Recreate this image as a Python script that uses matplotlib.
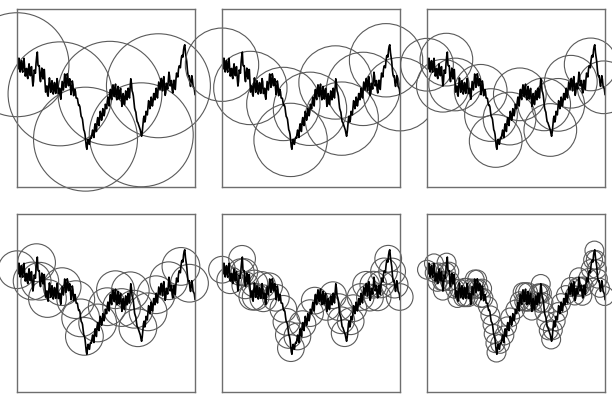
import numpy as np
import matplotlib
matplotlib.use('Agg')
import matplotlib.pyplot as plt
from matplotlib.patches import Circle

# profilo (ordinata in frazione dell'altezza del riquadro), campioni equispaziati
y_curve = [0.687, 0.661, 0.705, 0.724, 0.672, 0.646, 0.690, 0.710, 0.660, 0.645,
           0.700, 0.723, 0.675, 0.623, 0.640, 0.666, 0.622, 0.609, 0.665, 0.692,
           0.648, 0.625, 0.672, 0.676, 0.610, 0.567, 0.594, 0.657, 0.650, 0.639,
           0.697, 0.735, 0.758, 0.684, 0.680, 0.682, 0.613, 0.592, 0.640, 0.668,
           0.625, 0.607, 0.659, 0.660, 0.590, 0.533, 0.545, 0.568, 0.520, 0.510,
           0.570, 0.613, 0.585, 0.532, 0.548, 0.597, 0.575, 0.522, 0.538, 0.587,
           0.565, 0.526, 0.557, 0.609, 0.590, 0.525, 0.530, 0.555, 0.510, 0.493,
           0.545, 0.593, 0.570, 0.545, 0.590, 0.635, 0.610, 0.560, 0.580, 0.636,
           0.622, 0.569, 0.585, 0.608, 0.560, 0.519, 0.547, 0.596, 0.575, 0.513,
           0.520, 0.548, 0.535, 0.500, 0.500, 0.498, 0.475, 0.458, 0.460, 0.450,
           0.420, 0.396, 0.391, 0.380, 0.350, 0.322, 0.313, 0.296, 0.260, 0.226,
           0.212, 0.250, 0.268, 0.244, 0.240, 0.270, 0.279, 0.275, 0.300, 0.320,
           0.290, 0.278, 0.335, 0.355, 0.320, 0.312, 0.369, 0.390, 0.355, 0.345,
           0.390, 0.425, 0.408, 0.375, 0.395, 0.440, 0.430, 0.400, 0.420, 0.465,
           0.454, 0.440, 0.480, 0.505, 0.470, 0.455, 0.520, 0.548, 0.505, 0.491,
           0.547, 0.574, 0.530, 0.508, 0.555, 0.578, 0.510, 0.490, 0.540, 0.565,
           0.520, 0.494, 0.538, 0.554, 0.500, 0.453, 0.475, 0.525, 0.505, 0.463,
           0.490, 0.540, 0.520, 0.490, 0.529, 0.555, 0.510, 0.500, 0.560, 0.608,
           0.585, 0.540, 0.530, 0.512, 0.475, 0.443, 0.430, 0.420, 0.390, 0.367,
           0.363, 0.352, 0.340, 0.330, 0.320, 0.300, 0.285, 0.308, 0.350, 0.385,
           0.398, 0.365, 0.380, 0.425, 0.420, 0.405, 0.445, 0.485, 0.475, 0.440,
           0.460, 0.505, 0.490, 0.455, 0.480, 0.525, 0.510, 0.490, 0.530, 0.555,
           0.515, 0.500, 0.550, 0.590, 0.566, 0.545, 0.585, 0.610, 0.570, 0.540,
           0.603, 0.620, 0.570, 0.515, 0.529, 0.583, 0.570, 0.550, 0.600, 0.645,
           0.622, 0.568, 0.580, 0.598, 0.547, 0.528, 0.575, 0.600, 0.560, 0.548,
           0.603, 0.640, 0.630, 0.618, 0.660, 0.680, 0.678, 0.670, 0.710, 0.735,
           0.740, 0.730, 0.770, 0.792, 0.799, 0.755, 0.730, 0.705, 0.659, 0.630,
           0.620, 0.625, 0.585, 0.565, 0.595, 0.625, 0.603, 0.565, 0.560, 0.550,
           0.520]
x_curve = np.arange(len(y_curve)) / (len(y_curve) - 1.)
y_curve = np.array(y_curve)

# raggi del compasso per ogni riquadro
radii = [0.292, 0.206, 0.148, 0.106, 0.075, 0.053]


def divider(xs, ys, r):
    # passi di compasso lungo la spezzata: nuovo centro dove la curva esce dal cerchio
    cx, cy = xs[0], ys[0]
    centers = [(cx, cy)]
    px, py = xs[0], ys[0]
    i = 1
    while i < len(xs):
        qx, qy = xs[i], ys[i]
        if np.hypot(qx - cx, qy - cy) >= r:
            dx, dy = qx - px, qy - py
            fx, fy = px - cx, py - cy
            a = dx*dx + dy*dy
            b = 2*(fx*dx + fy*dy)
            c = fx*fx + fy*fy - r*r
            t = (-b + np.sqrt(b*b - 4*a*c)) / (2*a)
            cx, cy = px + t*dx, py + t*dy
            centers.append((cx, cy))
            px, py = cx, cy
        else:
            px, py = qx, qy
            i += 1
    return centers


W, H = 612, 394
lefts = [17, 222, 427]
tops = [9, 214]
size = 178

fig = plt.figure(figsize=(W/100., H/100.), dpi=100)
k = 0
for top in tops:
    for left in lefts:
        ax = fig.add_axes([left/W, (H - top - size)/H, size/W, size/H])
        ax.set_xlim(0, 1); ax.set_ylim(0, 1)
        ax.set_xticks([]); ax.set_yticks([])
        for s in ax.spines.values():
            s.set_color('#6e6e6e'); s.set_linewidth(1.0)
        for (cx, cy) in divider(x_curve, y_curve, radii[k]):
            ax.add_patch(Circle((cx, cy), radii[k], fill=False, ec='#5a5a5a',
                                lw=0.8, clip_on=False))
        ax.plot(x_curve, y_curve, color='black', lw=1.2)
        k += 1

plt.savefig('out.png', dpi=100)
